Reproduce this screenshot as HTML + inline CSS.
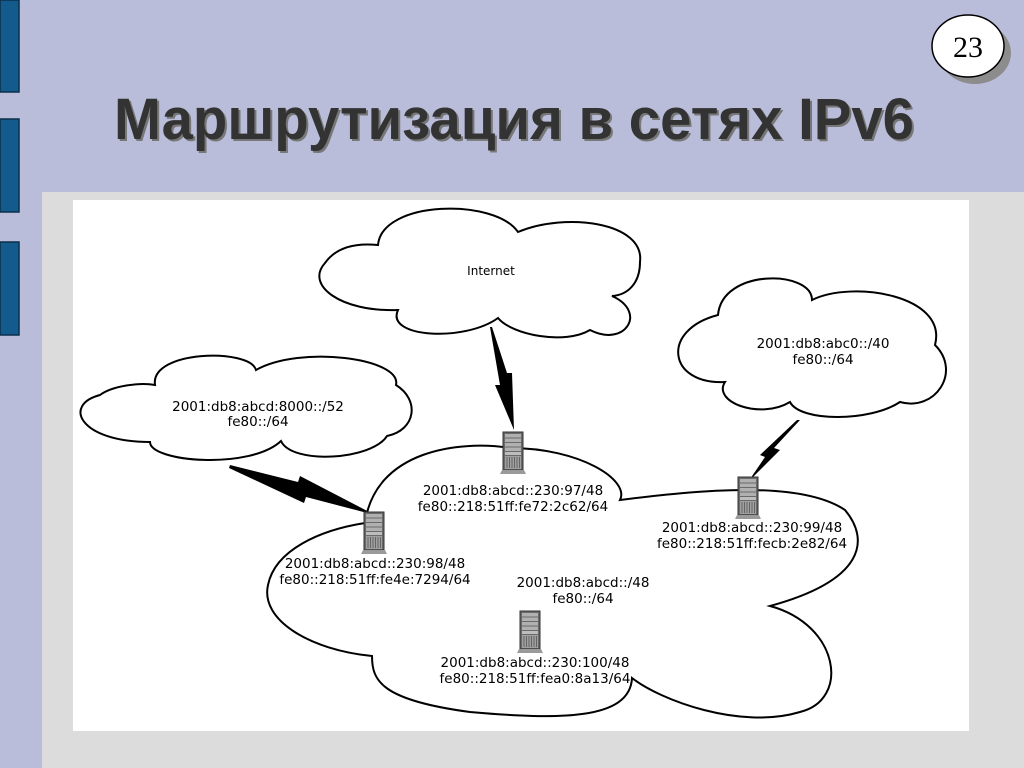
<!DOCTYPE html>
<html><head><meta charset="utf-8"><style>
html,body{margin:0;padding:0;width:1024px;height:768px;overflow:hidden;background:#b9bdd9}
svg{display:block}
</style></head><body>
<svg width="1024" height="768" viewBox="0 0 1024 768" xmlns="http://www.w3.org/2000/svg">
<defs>
<g id="srv">
<rect x="-10" y="-20" width="20" height="38" fill="#6a6a6a" stroke="#333" stroke-width="1"/>
<rect x="-8" y="-18" width="16" height="3.5" fill="#b0b0b0"/>
<rect x="-8" y="-13.5" width="16" height="3.5" fill="#b0b0b0"/>
<rect x="-8" y="-9" width="16" height="3.5" fill="#b0b0b0"/>
<rect x="-8" y="-4.5" width="16" height="3.5" fill="#b0b0b0"/>
<rect x="-8" y="0" width="16" height="3" fill="#bdbdbd"/>
<rect x="-8" y="4" width="16" height="13" fill="#a0a0a0"/>
<path d="M-6 5v11M-3.5 5v11M-1 5v11M1.5 5v11M4 5v11M6.5 5v11" stroke="#555" stroke-width="0.8"/>
<path d="M-11 18h22l2 4h-26z" fill="#9a9a9a"/>
</g>
</defs>
<rect width="1024" height="768" fill="#b9bdd9"/>
<rect x="42" y="192" width="982" height="576" fill="#dcdcdc"/>
<rect x="0" y="0" width="19" height="92" fill="#135b8d" stroke="#0b2f4a" stroke-width="1.5"/>
<rect x="0" y="119" width="19" height="93" fill="#135b8d" stroke="#0b2f4a" stroke-width="1.5"/>
<rect x="0" y="242" width="19" height="93" fill="#135b8d" stroke="#0b2f4a" stroke-width="1.5"/>
<ellipse cx="975" cy="53" rx="36" ry="31" fill="#8c8c8c"/>
<ellipse cx="968" cy="46" rx="36" ry="31" fill="#fff" stroke="#000" stroke-width="1.5"/>
<text x="968" y="57" font-family="Liberation Serif,serif" font-size="30" text-anchor="middle">23</text>
<text x="516" y="141" font-family="Liberation Sans,sans-serif" font-weight="bold" font-size="58" fill="#777" text-anchor="middle" textLength="800" lengthAdjust="spacingAndGlyphs">Маршрутизация в сетях IPv6</text>
<text x="514" y="139" font-family="Liberation Sans,sans-serif" font-weight="bold" font-size="58" fill="#333" text-anchor="middle" textLength="800" lengthAdjust="spacingAndGlyphs">Маршрутизация в сетях IPv6</text>
<rect x="73" y="200" width="896" height="531" fill="#fff"/>
<g fill="#fff" stroke="#000" stroke-width="2">
<path d="M378,245 C382,200 495,198 518,232 C565,212 645,222 640,262 C640,283 628,295 612,296 C648,312 625,348 590,330 C565,345 512,335 498,318 C465,342 385,338 398,310 C340,312 305,285 325,263 C337,246 358,243 378,245 Z"/>
<path d="M718,315 C722,268 812,270 812,300 C852,280 948,295 935,345 C962,372 935,412 900,402 C870,422 800,422 790,402 C760,420 712,402 725,382 C668,385 660,330 718,315 Z"/>
<path d="M155,385 C150,350 250,348 256,370 C300,345 402,358 396,385 C420,400 416,430 387,436 C372,460 292,465 281,441 C250,470 150,462 150,442 C80,442 62,405 100,395 C112,386 140,382 155,385 Z"/>
<path d="M365,523 C375,450 460,440 510,448 C580,448 630,480 620,500 C700,490 800,480 845,510 C870,540 865,580 770,606 C840,625 850,700 800,712 C740,730 660,700 632,678 C630,720 560,720 470,712 C380,700 372,680 372,656 C310,650 260,620 268,585 C275,550 320,530 365,523 Z"/>
</g>
<g fill="#000">
<polygon points="492,327 507,373 512,373 514,430 495,385 500,385 490,327"/>
<polygon points="800,420 774,448 780,450 748,482 765,457 760,455 797,420"/>
<polygon points="230,465 298,482 300,476 375,515 306,497 304,503 229,468"/>
</g>
<use href="#srv" x="513" y="452"/>
<use href="#srv" x="374" y="532"/>
<use href="#srv" x="748" y="497"/>
<use href="#srv" x="530" y="631"/>
<g font-family="DejaVu Sans,sans-serif" font-size="13.5" text-anchor="middle" fill="#000">
<text x="491" y="275" font-size="12">Internet</text>
<text x="258" y="411">2001:db8:abcd:8000::/52</text>
<text x="258" y="426">fe80::/64</text>
<text x="823" y="348">2001:db8:abc0::/40</text>
<text x="823" y="364">fe80::/64</text>
<text x="513" y="495">2001:db8:abcd::230:97/48</text>
<text x="513" y="511">fe80::218:51ff:fe72:2c62/64</text>
<text x="375" y="568">2001:db8:abcd::230:98/48</text>
<text x="375" y="584">fe80::218:51ff:fe4e:7294/64</text>
<text x="752" y="532">2001:db8:abcd::230:99/48</text>
<text x="752" y="548">fe80::218:51ff:fecb:2e82/64</text>
<text x="583" y="587">2001:db8:abcd::/48</text>
<text x="583" y="603">fe80::/64</text>
<text x="535" y="667">2001:db8:abcd::230:100/48</text>
<text x="535" y="683">fe80::218:51ff:fea0:8a13/64</text>
</g>
</svg>
</body></html>
